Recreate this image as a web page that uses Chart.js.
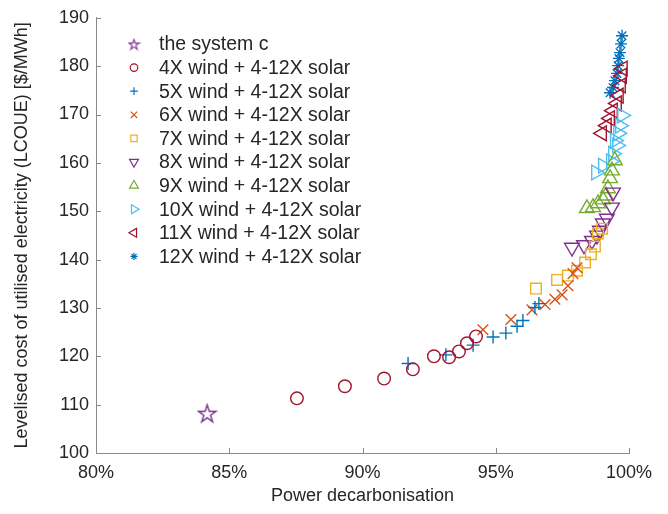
<!DOCTYPE html>
<html>
<head>
<meta charset="utf-8">
<script src="https://cdn.jsdelivr.net/npm/chart.js@4/dist/chart.umd.min.js"></script>
<style>
html,body{margin:0;padding:0;background:#fff;}
#wrap{position:relative;width:668px;height:514px;}
</style>
</head>
<body>
<div id="wrap"><canvas id="c" width="668" height="514"></canvas></div>
<script>
// ---- data (decarbonisation %, LCOUE $/MWh) ----
const xTicks = [80, 85, 90, 95, 100];
const yTicks = [100, 110, 120, 130, 140, 150, 160, 170, 180, 190];

const seriesNames = [
  'the system c',
  '4X wind + 4-12X solar',
  '5X wind + 4-12X solar',
  '6X wind + 4-12X solar',
  '7X wind + 4-12X solar',
  '8X wind + 4-12X solar',
  '9X wind + 4-12X solar',
  '10X wind + 4-12X solar',
  '11X wind + 4-12X solar',
  '12X wind + 4-12X solar'
];

const xSys = [84.17];
const ySys = [108.2];

const x4 = [87.54, 89.34, 90.81, 91.89, 92.68, 93.25, 93.62, 93.92, 94.26];
const y4 = [111.3, 113.8, 115.4, 117.3, 120.0, 119.8, 121.0, 122.7, 124.1];

const x5 = [91.71, 93.13, 94.15, 94.90, 95.38, 95.80, 96.02, 96.47, 96.62];
const y5 = [118.5, 120.3, 122.3, 124.0, 124.8, 126.2, 127.4, 130.1, 130.9];

const x6 = [94.52, 95.57, 96.36, 96.85, 97.22, 97.49, 97.71, 97.90, 98.05];
const y6 = [125.5, 127.6, 129.6, 130.7, 131.8, 132.7, 134.6, 137.1, 138.3];

const x7 = [96.51, 97.30, 97.71, 98.05, 98.35, 98.57, 98.72, 98.84, 98.99];
const y7 = [134.0, 135.8, 136.7, 137.7, 139.4, 141.1, 142.7, 145.4, 146.4];

const x8 = [97.86, 98.31, 98.61, 98.80, 98.91, 99.02, 99.17, 99.36, 99.40];
const y8 = [142.5, 143.0, 143.9, 145.0, 146.0, 147.5, 148.5, 150.8, 153.9];

const x9 = [98.42, 98.65, 98.84, 99.02, 99.14, 99.21, 99.29, 99.36, 99.47];
const y9 = [150.6, 150.8, 151.6, 152.4, 153.2, 154.7, 156.8, 158.4, 160.5];

const x10 = [98.76, 99.02, 99.32, 99.40, 99.47, 99.55, 99.59, 99.66, 99.74];
const y10 = [158.0, 159.4, 160.3, 161.9, 164.6, 163.6, 166.1, 167.7, 169.8];

const x11 = [98.99, 99.17, 99.29, 99.40, 99.55, 99.62, 99.70, 99.74, 99.77];
const y11 = [166.1, 167.7, 169.2, 170.8, 172.3, 173.9, 176.0, 178.0, 179.5];

const x12 = [99.29, 99.40, 99.47, 99.55, 99.59, 99.62, 99.66, 99.70, 99.74];
const y12 = [174.5, 175.6, 177.0, 178.5, 180.1, 181.6, 182.8, 184.6, 186.3];

// ---- styling ----
const FONT = '"Liberation Sans", Helvetica, Arial, sans-serif';
const TEXT = '#262626';
const AXIS = '#8a8a8a';
const TICK_SIZE = 18;
const TITLE_SIZE = 18;
const LEGEND_SIZE = 19.5;

function pentagram(size, color, lw) {
  const cv = document.createElement('canvas');
  cv.width = size; cv.height = size;
  const g = cv.getContext('2d');
  const cx = size / 2, cy = size / 2 + 0.8;
  const R = size / 2 - 1.2, r = R * 0.382;
  g.beginPath();
  for (let i = 0; i < 10; i++) {
    const rad = i % 2 === 0 ? R : r;
    const a = -Math.PI / 2 + i * Math.PI / 5;
    const px = cx + rad * Math.cos(a), py = cy + rad * Math.sin(a);
    if (i === 0) g.moveTo(px, py); else g.lineTo(px, py);
  }
  g.closePath();
  g.strokeStyle = color; g.lineWidth = lw; g.lineJoin = 'miter';
  g.stroke();
  return cv;
}
const starImg = pentagram(21, '#7E2F8E', 1.4);
const starImgSmall = pentagram(13, '#7E2F8E', 1.1);

function pts(xs, ys) { return xs.map((v, i) => ({ x: v, y: ys[i] })); }

const specs = [
  { x: xSys, y: ySys, color: '#7E2F8E', style: starImg, r: 10, rot: 0, legendStyle: starImgSmall },
  { x: x4, y: y4, color: '#A2142F', style: 'circle', r: 6.3, rot: 0 },
  { x: x5, y: y5, color: '#0072BD', style: 'cross', r: 6.5, rot: 0 },
  { x: x6, y: y6, color: '#D95319', style: 'crossRot', r: 7.5, rot: 0 },
  { x: x7, y: y7, color: '#EDB120', style: 'rect', r: 7.5, rot: 0 },
  { x: x8, y: y8, color: '#7E2F8E', style: 'triangle', r: 8.5, rot: 180 },
  { x: x9, y: y9, color: '#77AC30', style: 'triangle', r: 8.5, rot: 0 },
  { x: x10, y: y10, color: '#4DBEEE', style: 'triangle', r: 8.5, rot: 90 },
  { x: x11, y: y11, color: '#A2142F', style: 'triangle', r: 8.5, rot: 270 },
  { x: x12, y: y12, color: '#0072BD', style: 'star', r: 6, rot: 0 }
];

const datasets = specs.map((s, i) => ({
  label: seriesNames[i],
  data: pts(s.x, s.y),
  pointStyle: s.style,
  pointRadius: s.r,
  pointHoverRadius: s.r,
  pointRotation: s.rot,
  borderColor: s.color,
  backgroundColor: 'rgba(0,0,0,0)',
  pointBorderColor: s.color,
  pointBackgroundColor: 'rgba(0,0,0,0)',
  pointBorderWidth: 1.4,
  showLine: false,
  clip: false,
  order: i
}));

const inwardTicks = {
  id: 'inwardTicks',
  afterDraw(chart) {
    const { ctx, chartArea: a, scales } = chart;
    ctx.save();
    ctx.strokeStyle = AXIS;
    ctx.lineWidth = 1;
    const L = 5;
    scales.x.ticks.forEach(t => {
      const px = Math.round(scales.x.getPixelForValue(t.value)) + 0.5;
      ctx.beginPath(); ctx.moveTo(px, a.bottom); ctx.lineTo(px, a.bottom - L); ctx.stroke();
    });
    scales.y.ticks.forEach(t => {
      const py = Math.round(scales.y.getPixelForValue(t.value)) + 0.5;
      ctx.beginPath(); ctx.moveTo(a.left, py); ctx.lineTo(a.left + L, py); ctx.stroke();
    });
    ctx.restore();
  }
};

const innerLegend = {
  id: 'innerLegend',
  afterDraw(chart) {
    const ctx = chart.ctx;
    const x0 = 134, tx = 159, y0 = 44, dy = 23.6;
    ctx.save();
    ctx.font = LEGEND_SIZE + 'px ' + FONT;
    ctx.textBaseline = 'middle';
    ctx.textAlign = 'left';
    specs.forEach((s, i) => {
      const y = y0 + i * dy;
      ctx.strokeStyle = s.color;
      ctx.fillStyle = 'rgba(0,0,0,0)';
      ctx.lineWidth = 1.2;
      const st = s.legendStyle || s.style;
      const opts = { pointStyle: st, rotation: s.rot, radius: s.r * 0.6, borderWidth: 1.2 };
      if (Chart.helpers && Chart.helpers.drawPoint) {
        Chart.helpers.drawPoint(ctx, opts, x0, y);
      } else if (st instanceof HTMLCanvasElement) {
        ctx.drawImage(st, x0 - st.width / 2, y - st.height / 2);
      } else {
        ctx.beginPath(); ctx.arc(x0, y, opts.radius, 0, Math.PI * 2); ctx.stroke();
      }
      ctx.fillStyle = TEXT;
      ctx.fillText(seriesNames[i], tx, y + 1);
    });
    ctx.restore();
  }
};

new Chart(document.getElementById('c'), {
  type: 'scatter',
  data: { datasets },
  options: {
    responsive: false,
    animation: false,
    events: [],
    layout: { padding: { left: 0, right: 39, top: 17, bottom: 0 } },
    plugins: { legend: { display: false }, tooltip: { enabled: false } },
    scales: {
      x: {
        type: 'linear',
        min: 80, max: 100,
        afterBuildTicks: sc => { sc.ticks = xTicks.map(v => ({ value: v })); },
        afterFit: sc => { sc.height = 61; },
        grid: { display: false, drawTicks: false },
        border: { display: true, color: AXIS, width: 1 },
        ticks: {
          padding: 9,
          color: TEXT,
          font: { family: FONT, size: TICK_SIZE },
          maxRotation: 0,
          callback: v => v + '%'
        },
        title: {
          display: true,
          text: 'Power decarbonisation',
          color: TEXT,
          font: { family: FONT, size: TITLE_SIZE },
          padding: { top: 0, bottom: 7 }
        }
      },
      y: {
        type: 'linear',
        min: 100, max: 190,
        afterBuildTicks: sc => { sc.ticks = yTicks.map(v => ({ value: v })); },
        afterFit: sc => { sc.width = 96; },
        grid: { display: false, drawTicks: false },
        border: { display: true, color: AXIS, width: 1 },
        ticks: {
          padding: 7,
          color: TEXT,
          font: { family: FONT, size: TICK_SIZE }
        },
        title: {
          display: true,
          text: 'Levelised cost of utilised electricity (LCOUE) [$/MWh]',
          color: TEXT,
          font: { family: FONT, size: TITLE_SIZE },
          padding: { top: 11, bottom: 0 }
        }
      }
    }
  },
  plugins: [inwardTicks, innerLegend]
});
</script>
</body>
</html>
